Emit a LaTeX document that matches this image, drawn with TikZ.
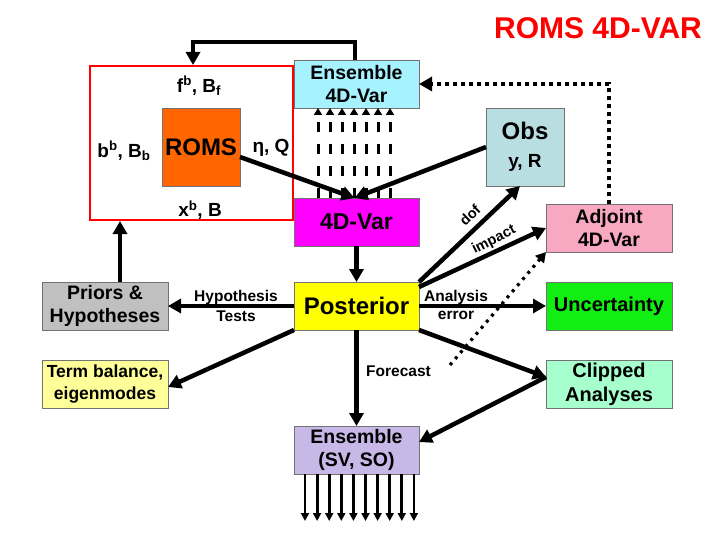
\documentclass[tikz,border=0pt]{standalone}
\usepackage{fontspec}
\setmainfont{Liberation Sans}
\usetikzlibrary{arrows.meta}
\definecolor{romsor}{HTML}{FF6600}
\definecolor{enscy}{HTML}{A6F2FF}
\definecolor{varmg}{HTML}{FF00FF}
\definecolor{obscl}{HTML}{B8DEE2}
\definecolor{adjpk}{HTML}{F8A8C0}
\definecolor{postyl}{HTML}{FFFF00}
\definecolor{prigr}{HTML}{C0C0C0}
\definecolor{uncgr}{HTML}{11EE11}
\definecolor{termyl}{HTML}{FFFF99}
\definecolor{clipmn}{HTML}{A6FFCC}
\definecolor{svlav}{HTML}{C8B8E8}
\newcommand{\fsz}[1]{\fontsize{#1}{#1}\selectfont\bfseries}
\tikzset{
  box/.style={draw=black!55, line width=0.8pt, inner sep=0pt, outer sep=0pt, align=center},
  bigarr/.style={line width=4.5pt, -{Triangle[length=13pt,width=14pt]}},
  dasharr/.style={line width=3pt, dash pattern=on 10pt off 12pt, -{Triangle[length=7pt,width=8pt]}},
  dotarr/.style={line width=3.2pt, dash pattern=on 3pt off 5pt, -{Triangle[length=10pt,width=11pt]}},
  dotarrb/.style={line width=3.8pt, dash pattern=on 4pt off 4pt, -{Triangle[length=13pt,width=14pt]}},
  outarr/.style={line width=2.8pt, -{Triangle[length=8pt,width=8pt]}},
  lbl/.style={inner sep=0pt, align=center, font=\fsz{15.5}}
}
\begin{document}
\begin{tikzpicture}[x=1pt,y=-1pt]
\useasboundingbox (0,0) rectangle (720,540);
% title
\node[text=red, font=\fsz{30}] (tit) at (598,28) {ROMS 4D-VAR};
% boxes
\node[draw=red, line width=2pt, minimum width=203pt, minimum height=154pt, inner sep=0pt] (red) at (191.5,143) {};
\node[box, fill=romsor, minimum width=78pt, minimum height=78pt, font=\fsz{24}] (roms) at (201,147) {ROMS};
\node[box, fill=enscy, minimum width=125pt, minimum height=48pt, font=\fsz{19.5}] (ens) at (356.5,84) {Ensemble\\[4pt]4D-Var};
\node[box, fill=varmg, minimum width=125pt, minimum height=48pt, font=\fsz{23}] (var) at (356.5,222) {4D-Var};
\node[box, fill=obscl, minimum width=78pt, minimum height=78pt, font=\fsz{24}] (obs) at (525,147) {Obs\\[4pt]{\fsz{19}y, R}};
\node[box, fill=adjpk, minimum width=126pt, minimum height=48pt, font=\fsz{19.5}] (adj) at (609,228) {Adjoint\\[4pt]4D-Var};
\node[box, fill=postyl, minimum width=125pt, minimum height=48pt, font=\fsz{24}] (post) at (356.5,306) {Posterior};
\node[box, fill=prigr, minimum width=126pt, minimum height=48pt, font=\fsz{19.5}] (pri) at (105,306) {Priors \&\\[4pt]Hypotheses};
\node[box, fill=uncgr, minimum width=126pt, minimum height=48pt, font=\fsz{20}] (unc) at (609,306) {Uncertainty};
\node[box, fill=termyl, minimum width=126pt, minimum height=48pt, font=\fsz{17.5}] (term) at (105,384) {Term balance,\\[5pt]eigenmodes};
\node[box, fill=clipmn, minimum width=126pt, minimum height=48pt, font=\fsz{20}] (clip) at (609,384) {Clipped\\[4pt]Analyses};
\node[box, fill=svlav, minimum width=125pt, minimum height=48pt, font=\fsz{19.5}] (sv) at (356.5,450) {Ensemble\\[4pt](SV, SO)};
% red box labels
\node[inner sep=0pt, font=\fsz{19}] (fb) at (199,86) {f\textsuperscript{b}, B\textsubscript{f}};
\node[inner sep=0pt, font=\fsz{19}] (bb) at (124,151) {b\textsuperscript{b}, B\textsubscript{b}};
\node[inner sep=0pt, font=\fsz{19}] (eta) at (271,148) {η, Q};
\node[inner sep=0pt, font=\fsz{19}] (xb) at (200,210) {x\textsuperscript{b}, B};
% top feedback
\coordinate (tA) at (193,42);
\draw[bigarr] ([xshift=-1.5pt]ens.north) |- (tA) -- (tA |- red.north);
% dashed arrows
\foreach \k in {-3,...,3}{
  \draw[dasharr] ([xshift={\k*12-2.5}]var.north) -- ([xshift={\k*12-2.5}]ens.south);
}
% into 4D-Var
\draw[bigarr] ([yshift=-10pt]roms.east) -- ([xshift=-2pt]var.north);
\draw[bigarr] (obs.west) -- ([xshift=-2pt]var.north);
\draw[bigarr] (var.south) -- (post.north);
% priors to red
\draw[bigarr] ([xshift=15pt]pri.north) -- ([xshift=15pt]pri.north |- red.south);
% posterior out
\draw[bigarr] (post.west) -- (pri.east);
\node[lbl] (hyp) at (236,297) {Hypothesis};
\node[lbl] (tst) at (236,316) {Tests};
\draw[bigarr] (post.east) -- (unc.west);
\node[lbl] (ana) at (456,297) {Analysis};
\node[lbl] (err) at (456,315) {error};
\draw[bigarr] (post.south west) -- ([yshift=-3pt]term.east);
\draw[bigarr] (post.south east) -- ([yshift=7pt]clip.west);
\draw[bigarr] ([yshift=7pt]clip.west) -- ([yshift=8pt]sv.east);
\draw[bigarr] (post.south) -- (sv.north);
\node[lbl, anchor=west] (fc) at (366,371) {Forecast};
\draw[bigarr] (post.north east) -- ([xshift=-5pt]obs.south);
\node[lbl, font=\fsz{14.5}, rotate=44] (dof) at (470,215) {dof};
\draw[bigarr] ([yshift=-5pt]post.north east) -- (adj.west);
\node[lbl, font=\fsz{14.5}, rotate=27] (imp) at (494,240) {impact};
% dotted
\coordinate (dS) at (450,365);
\draw[dotarr] (dS) -- (adj.south west);
\draw[dotarrb] (adj.north) |- (ens.east);
% ensemble outputs
\foreach \k in {0,...,9}{
  \draw[outarr] ([xshift={\k*12.1-51.5}]sv.south) -- ++(0,47);
}
\end{tikzpicture}
\end{document}
